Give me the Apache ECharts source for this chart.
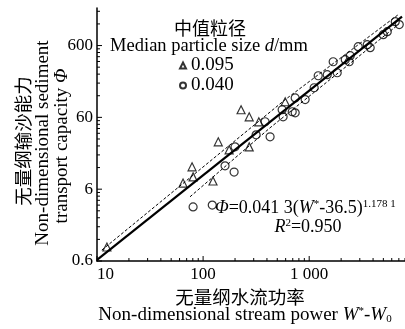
<!DOCTYPE html>
<html>
<head>
<meta charset="utf-8">
<script src="https://cdn.jsdelivr.net/npm/echarts@6/dist/echarts.min.js"></script>
<style>
html, body { margin: 0; padding: 0; background: #fff; }
#chart { width: 405px; height: 329px; }
</style>
</head>
<body>
<div id="chart"></div>
<script>
// d = 0.095 mm (triangles)
var w095 = [12.4, 64.7, 80.5, 78.7, 124, 139, 176, 228, 272, 272, 335, 594];
var phi095 = [0.94, 7.3, 8.9, 12.3, 7.8, 27.4, 21.2, 76.6, 61, 23.3, 52, 99];
// d = 0.040 mm (circles)
var w040 = [80.5, 122, 161, 196, 200, 316, 428, 384, 556, 568, 692, 738, 738, 916, 1114,
    1216, 1479, 1837, 1683, 2188, 2438, 2384, 2897, 3524, 3758, 4988, 5445, 7063, 6476];
var phi040 = [3.4, 3.6, 12.7, 10.4, 23.3, 34.3, 32.2, 52.1, 76.6, 61, 71.8, 69.5, 112, 106, 155,
    228, 236, 251, 357, 381, 433, 357, 579, 618, 561, 851, 937, 1175, 1291];
// fitted line and band
var fitW = [10, 7500];
var fitPhi = [0.62, 1520];
var upperW = [11.1, 145, 594, 6920];
var upperPhi = [0.85, 19.2, 106, 1618];
var lowerW = [75.3, 428, 6920];
var lowerPhi = [4.7, 43, 1175];
// ticks
var xMajor = [10, 100, 1000];
var xMinor = [20, 30, 40, 50, 60, 70, 80, 90, 200, 300, 400, 500, 600, 700, 800, 900,
    2000, 3000, 4000, 5000, 6000, 7000, 8000];
var yMajor = [0.6, 6, 60, 600];
var yMinor = [1.2, 1.8, 2.4, 3.0, 3.6, 4.2, 4.8, 5.4, 12, 18, 24, 30, 36, 42, 48, 54,
    120, 180, 240, 300, 360, 420, 480, 540, 1200, 1800];

var serif = '"Liberation Serif", "Times New Roman", serif';
var cjk = '"Noto Sans CJK SC", sans-serif';

function pairs(xs, ys) {
    return xs.map(function (x, i) { return [x, ys[i]]; });
}

// pick the tick label closest (in log space) to the value the axis hands us
function nearest(list, v) {
    var best = list[0];
    list.forEach(function (t) {
        if (Math.abs(Math.log(t / v)) < Math.abs(Math.log(best / v))) best = t;
    });
    return Math.abs(Math.log(best / v)) < 0.1 ? best : null;
}

var chart = echarts.init(document.getElementById('chart'));

var option = {
    animation: false,
    backgroundColor: '#fff',
    grid: { left: 97, right: 0, top: 8, bottom: 68 },
    xAxis: {
        type: 'log', logBase: 10, min: 10, max: 8000,
        axisLine: { lineStyle: { color: '#000', width: 1.5 } },
        axisTick: { show: false },
        splitLine: { show: false },
        axisLabel: {
            color: '#000', fontFamily: serif, fontSize: 17, margin: 5,
            showMaxLabel: false,
            alignMinLabel: 'left',
            formatter: function (v) {
                var t = nearest(xMajor, v);
                if (t === null) return '';
                return t === 1000 ? '1 000' : String(t);
            }
        }
    },
    yAxis: {
        type: 'log', logBase: 10, min: 0.6, max: 2000, interval: 1,
        axisLine: { lineStyle: { color: '#000', width: 1.5 } },
        axisTick: { show: false },
        splitLine: { show: false },
        axisLabel: {
            color: '#000', fontFamily: serif, fontSize: 17, margin: 4,
            showMaxLabel: false,
            formatter: function (v) {
                var t = nearest(yMajor, v);
                return t === null ? '' : String(t);
            }
        }
    },
    legend: {
        orient: 'vertical', left: 179, top: 56, itemGap: 1, padding: 0,
        itemWidth: 6, itemHeight: 6,
        textStyle: { fontFamily: serif, fontSize: 19, color: '#000' },
        data: ['0.095', '0.040']
    },
    graphic: [
        { type: 'text', x: 210, y: 28, style: { text: '中值粒径', font: '18px ' + cjk, fill: '#000', align: 'center', verticalAlign: 'middle' } },
        { type: 'text', x: 209, y: 46, style: { text: 'Median particle size {i|d}/mm', font: '18.5px ' + serif, fill: '#000', align: 'center', verticalAlign: 'middle',
            rich: { i: { fontStyle: 'italic', fontFamily: serif, fontSize: 18.5 } } } },
        { type: 'text', x: 215, y: 208, style: { text: '{i|Φ}=0.041 3({i|W}{s|*}-36.5){s|1.178 1}', font: '18px ' + serif, fill: '#000', align: 'left', verticalAlign: 'middle',
            rich: { i: { fontStyle: 'italic', fontFamily: serif, fontSize: 18 }, s: { fontFamily: serif, fontSize: 11, verticalAlign: 'top' } } } },
        { type: 'text', x: 308, y: 227, style: { text: '{i|R}{s|2}=0.950', font: '18px ' + serif, fill: '#000', align: 'center', verticalAlign: 'middle',
            rich: { i: { fontStyle: 'italic', fontFamily: serif, fontSize: 18 }, s: { fontFamily: serif, fontSize: 11, verticalAlign: 'top' } } } },
        { type: 'text', x: 240, y: 297, style: { text: '无量纲水流功率', font: '18.5px ' + cjk, fill: '#000', align: 'center', verticalAlign: 'middle' } },
        { type: 'text', x: 245, y: 315, style: { text: 'Non-dimensional stream power {i|W}{s|*}-{i|W}{b|0}', font: '19px ' + serif, fill: '#000', align: 'center', verticalAlign: 'middle',
            rich: { i: { fontStyle: 'italic', fontFamily: serif, fontSize: 19 }, s: { fontFamily: serif, fontSize: 11, verticalAlign: 'top' }, b: { fontFamily: serif, fontSize: 11, verticalAlign: 'bottom' } } } },
        { type: 'text', x: 23, y: 141, rotation: Math.PI / 2, style: { text: '无量纲输沙能力', font: '18.5px ' + cjk, fill: '#000', align: 'center', verticalAlign: 'middle' } },
        { type: 'text', x: 43, y: 143, rotation: Math.PI / 2, style: { text: 'Non-dimensional sediment', font: '19px ' + serif, fill: '#000', align: 'center', verticalAlign: 'middle' } },
        { type: 'text', x: 62, y: 146, rotation: Math.PI / 2, style: { text: 'transport capacity {i|Φ}', font: '19px ' + serif, fill: '#000', align: 'center', verticalAlign: 'middle',
            rich: { i: { fontStyle: 'italic', fontFamily: serif, fontSize: 19 } } } }
    ],
    series: [
        {
            name: '0.095', type: 'scatter', symbol: 'triangle', symbolSize: 8,
            itemStyle: { color: 'rgba(0,0,0,0)', borderColor: '#000', borderWidth: 1.2 },
            data: pairs(w095, phi095), z: 3
        },
        {
            name: '0.040', type: 'scatter', symbol: 'circle', symbolSize: 8,
            itemStyle: { color: 'rgba(0,0,0,0)', borderColor: '#000', borderWidth: 1.2 },
            data: pairs(w040, phi040), z: 3
        },
        {
            type: 'line', data: pairs(fitW, fitPhi), symbol: 'none',
            lineStyle: { color: '#000', width: 2.2 }, z: 4
        },
        {
            type: 'line', data: pairs(upperW, upperPhi), symbol: 'none',
            lineStyle: { color: '#000', width: 1, type: [3, 2] }, z: 4
        },
        {
            type: 'line', data: pairs(lowerW, lowerPhi), symbol: 'none',
            lineStyle: { color: '#000', width: 1, type: [3, 2] }, z: 4
        },
        {
            type: 'custom', silent: true, z: 5,
            data: xMajor.map(function (v) { return [v, 5]; }).concat(xMinor.map(function (v) { return [v, 3]; })),
            renderItem: function (params, api) {
                var p = api.coord([api.value(0), 0.6]);
                return { type: 'line', shape: { x1: p[0], y1: p[1], x2: p[0], y2: p[1] - api.value(1) },
                    style: { stroke: '#000', lineWidth: 1 } };
            }
        },
        {
            type: 'custom', silent: true, z: 5,
            data: yMajor.map(function (v) { return [5, v]; }).concat(yMinor.map(function (v) { return [3, v]; })),
            renderItem: function (params, api) {
                var p = api.coord([10, api.value(1)]);
                return { type: 'line', shape: { x1: p[0], y1: p[1], x2: p[0] + api.value(0), y2: p[1] },
                    style: { stroke: '#000', lineWidth: 1 } };
            }
        }
    ]
};

chart.setOption(option);
</script>
</body>
</html>
